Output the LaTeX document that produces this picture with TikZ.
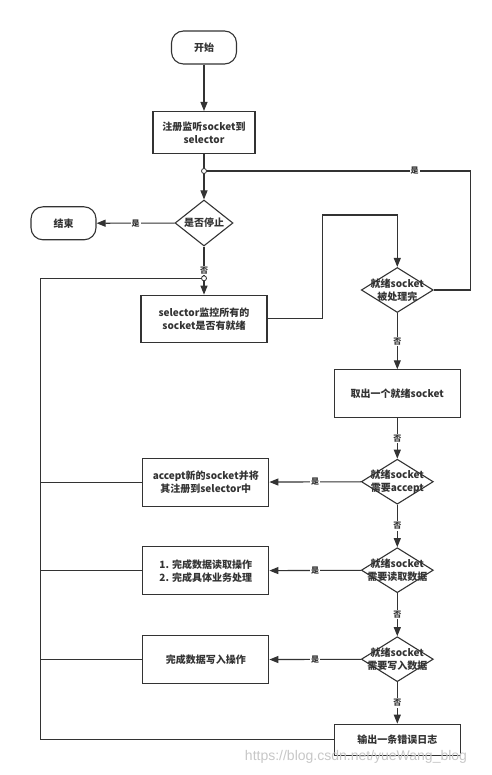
\documentclass[tikz,border=0pt]{standalone}
\usepackage{fontspec}
\setmainfont{Noto Sans CJK SC}
\newfontfamily\wmfont{Liberation Sans}
\usetikzlibrary{arrows.meta,shapes.geometric}

\begin{document}
\begin{tikzpicture}[
	x=1pt,y=-1pt, % pixel grid, y down
	>={Triangle[length=9pt,width=7pt]}, % filled arrowheads
	line width=1.1pt,
	draw=black!80,
	every node/.style={font=\fontsize{10}{13}\selectfont\bfseries,text=black!80},
	term/.style={draw=black!80,rounded corners=12pt,minimum width=65pt,minimum height=33pt},
	box/.style={draw=black!80,minimum width=126pt,minimum height=48pt,align=center},
	ask/.style={draw=black!80,diamond,inner sep=0pt,minimum width=72pt,minimum height=45pt},
	asktext/.style={label={[align=center]center:#1}},
	yn/.style={fill=white,inner sep=1pt,font=\fontsize{8}{9}\selectfont\bfseries},
	dot/.style={circle,draw=black!80,fill=white,inner sep=0pt,minimum size=5pt,line width=0.8pt}
]
\useasboundingbox (0,0) rectangle (491,775);

\node[term](start) at (204,47.5) {开始};
\node[box,minimum width=102pt,minimum height=42pt](reg) at (204,132.5) {注册监听socket到\\selector};
\coordinate (j1) at (204,171);
\node[ask,minimum width=58pt,minimum height=46pt,asktext={是否停止}](stop) at (204,223) {};
\node[term](end) at (63.5,223.3) {结束};
\coordinate (j2) at (204,278.3);
\node[box,minimum height=47pt](mon) at (204,318.7) {selector监控所有的\\socket是否有就绪};
\node[ask,asktext={就绪socket\\被处理完}](done) at (397.3,290) {};
\node[box](take) at (397.3,393.8) {取出一个就绪socket};
\node[ask,asktext={就绪socket\\需要accept}](acc) at (397.3,481.7) {};
\node[box](accbox) at (205.8,482.2) {accept新的socket并将\\其注册到selector中};
\node[ask,asktext={就绪socket\\需要读取数据}](rd) at (397.3,570.2) {};
\node[box,align=left](rdbox) at (205.8,570.8) {1. 完成数据读取操作\\2. 完成具体业务处理};
\node[ask,asktext={就绪socket\\需要写入数据}](wr) at (397.3,659.2) {};
\node[box](wrbox) at (205.8,659.7) {完成数据写入操作};
\node[box,minimum height=31pt](err) at (397.3,739.7) {输出一条错误日志};
\coordinate (up) at (322.7,215);
\coordinate (rt) at (470.7,171);
\coordinate (lft) at (40.7,278.3);

\draw[->] (start) -- (reg);
\draw (reg) -- (j1);
\draw[->] (j1) -- (stop);
\draw[->] (stop) -- node[yn]{是} (end);
\draw (stop) -- node[yn,pos=.75]{否} (j2);
\draw[->] (j2) -- (mon);
\draw[->] (mon.east) -| (up) -| (done.north);
\draw (done.east) -| (rt) -- node[yn,pos=.21]{是} (j1);
\draw[->] (done) -- node[yn]{否} (take);
\draw[->] (take) -- node[yn]{否} (acc);
\draw[->] (acc) -- node[yn]{是} (accbox);
\draw[->] (acc) -- node[yn]{否} (rd);
\draw[->] (rd) -- node[yn]{是} (rdbox);
\draw[->] (rd) -- node[yn]{否} (wr);
\draw[->] (wr) -- node[yn]{是} (wrbox);
\draw[->] (wr) -- node[yn]{否} (err);
% back to the loop
\draw (err.west) -| (lft) -- (j2);
\draw (accbox.west) -- (accbox.west -| lft);
\draw (rdbox.west) -- (rdbox.west -| lft);
\draw (wrbox.west) -- (wrbox.west -| lft);
\node[dot] at (j1) {};
\node[dot] at (j2) {};

\node[font=\wmfont\fontsize{14}{16}\selectfont,text=black!22](wm) at (356,757) {https://blog.csdn.net/yueWang\_blog};
\end{tikzpicture}
\end{document}
